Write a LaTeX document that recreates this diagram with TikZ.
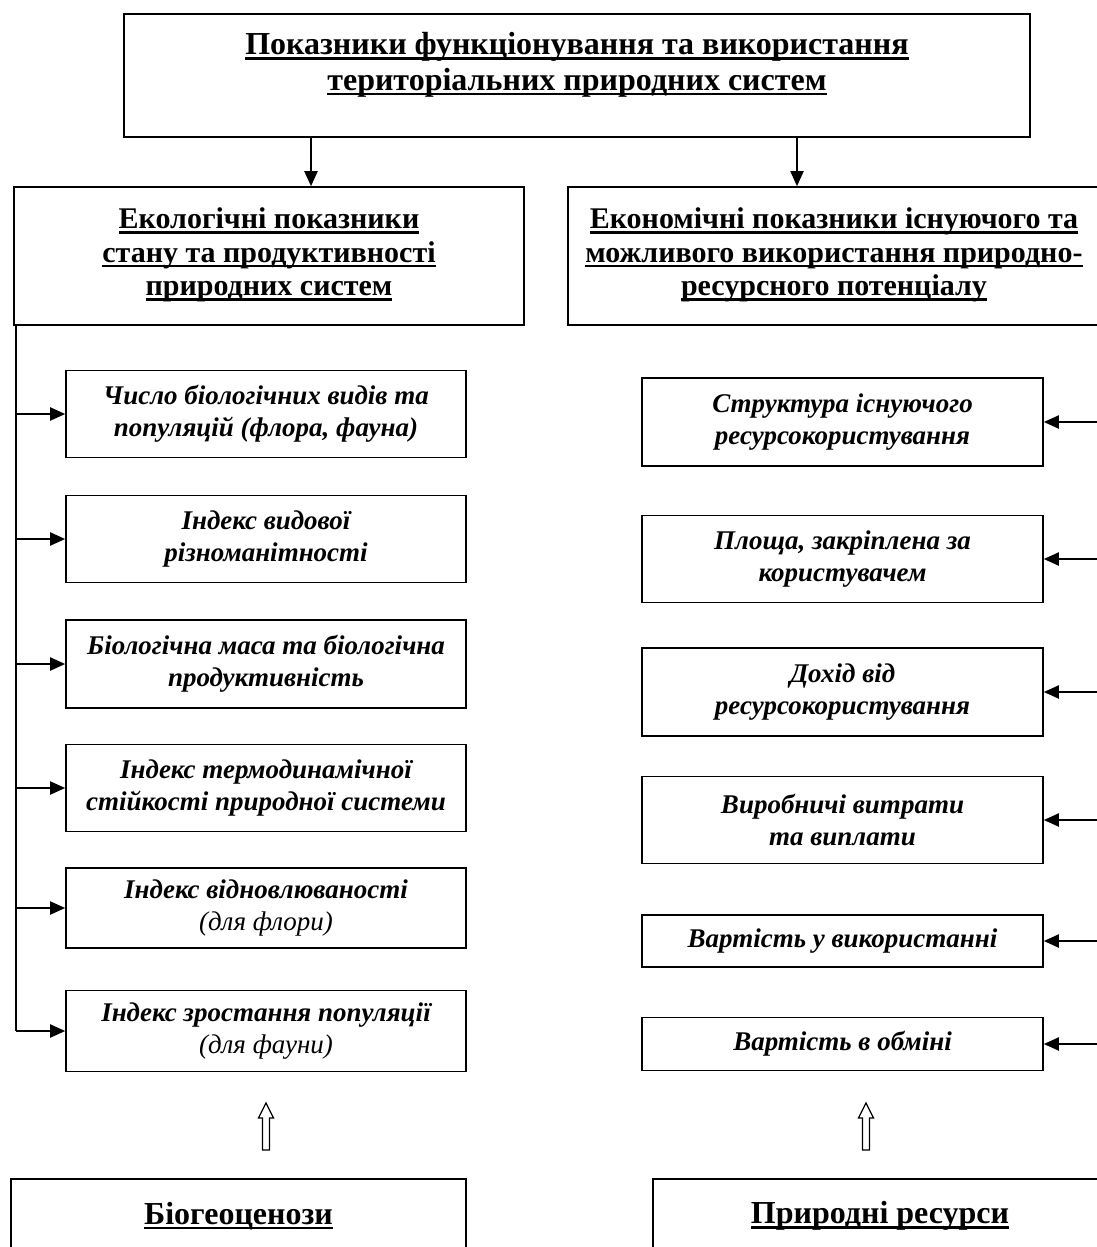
\documentclass[tikz,border=0pt]{standalone}
\usepackage{fontspec}
\setmainfont{Liberation Serif}
\usetikzlibrary{arrows.meta}
\newcommand\myul[1]{\setbox0=\hbox{#1}\rlap{\rule[-5pt]{\wd0}{2.6pt}}\box0}
\tikzset{
  box/.style={draw, line width=1.6pt, inner sep=0pt},
  titletxt/.style={align=center, font=\bfseries\fontsize{32}{35.5}\selectfont},
  headtxt/.style={align=center, font=\bfseries\fontsize{30}{33.5}\selectfont},
  itemtxt/.style={align=center, font=\bfseries\itshape\fontsize{27}{32}\selectfont},
  conn/.style={line width=2pt, -{Triangle[length=15pt,width=13pt]}},
  plain/.style={line width=2pt},
  hollow/.style={line width=1.3pt}
}
\begin{document}
\begin{tikzpicture}[x=1pt,y=-1pt]
\useasboundingbox (0,0) rectangle (1096,1247);
% top box
\node[box, minimum width=906, minimum height=123] (top) at (577,75.5) {};
\node[titletxt] (toptxt) at (577,65) {\myul{Показники функціонування та використання}\\\myul{територіальних природних систем}};
% second level
\node[box, minimum width=510, minimum height=138] (eco) at (269,256) {};
\node[headtxt] (ecotxt) at (269,255) {\myul{Екологічні показники}\\\myul{стану та продуктивності}\\\myul{природних систем}};
\node[box, minimum width=540, minimum height=138] (econ) at (838,256) {};
\node[headtxt] (econtxt) at (834,255) {\myul{Економічні показники існуючого та}\\\myul{можливого використання природно-}\\\myul{ресурсного потенціалу}};
\coordinate (a1) at (311,137);
\coordinate (a2) at (797,137);
\draw[conn] (a1) -- (a1 |- eco.north);
\draw[conn] (a2) -- (a2 |- econ.north);
% left items
\node[box, minimum width=400, minimum height=87, itemtxt] (l1) at (266,414) {Число біологічних видів та\\популяцій (флора, фауна)};
\node[box, minimum width=400, minimum height=87, itemtxt] (l2) at (266,539) {Індекс видової\\різноманітності};
\node[box, minimum width=400, minimum height=88, itemtxt] (l3) at (266,664) {Біологічна маса та біологічна\\продуктивність};
\node[box, minimum width=400, minimum height=87, itemtxt] (l4) at (266,788) {Індекс термодинамічної\\стійкості природної системи};
\node[box, minimum width=400, minimum height=80, itemtxt] (l5) at (266,908) {Індекс відновлюваності\\{\mdseries(для флори)}};
\node[box, minimum width=400, minimum height=81, itemtxt] (l6) at (266,1031) {Індекс зростання популяції\\{\mdseries(для фауни)}};
\coordinate (lv) at (16,325);
\draw[plain] (lv) -- (lv |- l6.west);
\foreach \i in {1,...,6} {\draw[conn] (lv |- l\i.west) -- (l\i.west);}
% right items
\node[box, minimum width=401, minimum height=88, itemtxt] (r1) at (842.5,422) {Структура існуючого\\ресурсокористування};
\node[box, minimum width=401, minimum height=87, itemtxt] (r2) at (842.5,559) {Площа, закріплена за\\користувачем};
\node[box, minimum width=401, minimum height=88, itemtxt] (r3) at (842.5,692) {Дохід від\\ресурсокористування};
\node[box, minimum width=401, minimum height=87, itemtxt] (r4) at (842.5,820) {Виробничі витрати\\та виплати};
\node[box, minimum width=401, minimum height=52, itemtxt] (r5) at (842.5,941) {Вартість у використанні};
\node[box, minimum width=401, minimum height=53, itemtxt] (r6) at (842.5,1044) {Вартість в обміні};
\coordinate (rv) at (1100,400);
\foreach \i in {1,...,6} {\draw[conn] (rv |- r\i.east) -- (r\i.east);}
% bottom boxes
\node[box, minimum width=455, minimum height=90] (bio) at (238.5,1224) {};
\node[titletxt] (biotxt) at (238.5,1216) {\myul{Біогеоценози}};
\node[box, minimum width=454, minimum height=90] (res) at (880,1224) {};
\node[titletxt] (restxt) at (880,1216) {\myul{Природні ресурси}};
% hollow up arrows
\foreach \x in {266,866} {
  \draw[hollow, line join=miter] (\x,1103) -- (\x+7.5,1118) -- (\x+3.5,1118) -- (\x+3.5,1150) -- (\x-3.5,1150) -- (\x-3.5,1118) -- (\x-7.5,1118) -- cycle;
}
\end{tikzpicture}
\end{document}
